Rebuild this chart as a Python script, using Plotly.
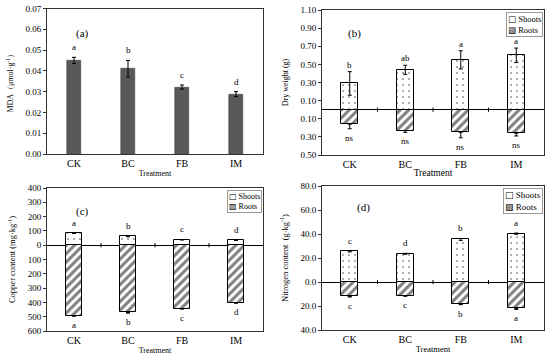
import plotly.graph_objects as go

cats = ["CK", "BC", "FB", "IM"]

mda = [0.045, 0.041, 0.0322, 0.0288]
mda_err = [0.0015, 0.004, 0.001, 0.0012]
mda_lbl = ["a", "b", "c", "d"]

dw_shoot = [0.29, 0.44, 0.55, 0.60]
dw_shoot_err = [0.13, 0.05, 0.10, 0.08]
dw_root = [0.16, 0.23, 0.25, 0.26]
dw_root_err = [0.05, 0.02, 0.06, 0.03]
dw_shoot_lbl = ["b", "ab", "a", "a"]
dw_root_lbl = ["ns", "ns", "ns", "ns"]

cu_shoot = [85, 62, 38, 35]
cu_shoot_err = [3, 3, 2, 2]
cu_root = [492, 470, 443, 402]
cu_root_err = [5, 5, 4, 4]
cu_shoot_lbl = ["a", "b", "c", "d"]
cu_root_lbl = ["a", "b", "c", "d"]

n_shoot = [25.5, 23.5, 35.5, 40.3]
n_shoot_err = [0.4, 0.4, 0.8, 0.5]
n_root = [12.0, 11.5, 18.5, 22.0]
n_root_err = [0.5, 0.4, 0.4, 0.8]
n_shoot_lbl = ["c", "d", "b", "a"]
n_root_lbl = ["c", "c", "b", "a"]

mda_ticks = [0, 0.01, 0.02, 0.03, 0.04, 0.05, 0.06, 0.07]
dw_ticks = [1.1, 0.9, 0.7, 0.5, 0.3, 0.1, -0.1, -0.3, -0.5]
cu_ticks = [400, 300, 200, 100, 0, -100, -200, -300, -400, -500, -600]
n_ticks = [80, 60, 40, 20, 0, -20, -40]

series_names = ["Shoots", "Roots"]

FONT = "Liberation Serif"
xs = list(range(len(cats)))
bounds = [i + 0.5 for i in xs[:-1]]

fig = go.Figure()

dot_pat = dict(shape=".", fgcolor="#333", bgcolor="white", size=6, solidity=0.1)
hatch_pat = dict(shape="/", fgcolor="black", bgcolor="white", size=6, solidity=0.5)
BW = 0.31


def err(arr):
    return dict(type="data", array=arr, color="black", thickness=1, width=2)


def labels(xa, ya, yvals, txt, above, gap=3):
    for x, y, t in zip(xs, yvals, txt):
        fig.add_annotation(x=x, y=y, text=t, xref=xa, yref=ya, showarrow=False,
                           yanchor="bottom" if above else "top", yshift=gap if above else -2,
                           font=dict(family=FONT, size=9, color="black"))


# (a)
fig.add_trace(go.Bar(x=xs, y=mda, width=0.26, marker=dict(color="#595959", line=dict(color="#333", width=0.5)),
                     error_y=err(mda_err), showlegend=False, xaxis="x", yaxis="y"))
labels("x", "y", [v + e for v, e in zip(mda, mda_err)], mda_lbl, True)


def two_panel(xa, ya, shoot, shoot_err, root, root_err, slbl, rlbl, gap=3):
    fig.add_trace(go.Bar(x=xs, y=shoot, width=BW, name=series_names[0],
                         marker=dict(color="white", pattern=dot_pat, line=dict(color="black", width=1)),
                         error_y=err(shoot_err), showlegend=False, xaxis=xa, yaxis=ya))
    fig.add_trace(go.Bar(x=xs, y=[-v for v in root], width=BW, name=series_names[1],
                         marker=dict(color="white", pattern=hatch_pat, line=dict(color="black", width=1)),
                         error_y=dict(type="data", symmetric=False, array=[0] * len(root), arrayminus=root_err,
                                      color="black", thickness=1, width=2),
                         showlegend=False, xaxis=xa, yaxis=ya))
    labels(xa, ya, [v + e for v, e in zip(shoot, shoot_err)], slbl, True, gap)
    labels(xa, ya, [-(v + e) for v, e in zip(root, root_err)], rlbl, False)
    fig.add_trace(go.Scatter(x=bounds, y=[0] * len(bounds), mode="markers",
                             marker=dict(symbol="line-ns", size=3, line=dict(color="black", width=1)),
                             showlegend=False, hoverinfo="skip", xaxis=xa, yaxis=ya))


two_panel("x2", "y2", dw_shoot, dw_shoot_err, dw_root, dw_root_err, dw_shoot_lbl, dw_root_lbl, gap=0)
two_panel("x3", "y3", cu_shoot, cu_shoot_err, cu_root, cu_root_err, cu_shoot_lbl, cu_root_lbl)
two_panel("x4", "y4", n_shoot, n_shoot_err, n_root, n_root_err, n_shoot_lbl, n_root_lbl)

W, H = 550, 358


def dom(x0, x1, y0, y1):
    return [x0 / W, x1 / W], [1 - y1 / H, 1 - y0 / H]


ax_common = dict(showline=True, linecolor="#333", linewidth=1, mirror=True, showgrid=False,
                 tickfont=dict(family=FONT, size=9, color="black"), ticks="outside", ticklen=3,
                 tickcolor="#333", automargin=False)

panels = [
    ("", dom(47, 263, 8.5, 154), [-0.5, 3.5], [0, 0.07], mda_ticks, [f"{t:.2f}" for t in mda_ticks],
     "MDA（μmol·g<sup>-1</sup>）", 8, False, 8, 2),
    ("2", dom(322, 544, 10, 155), [-0.5, 3.5], [-0.5, 1.1], dw_ticks, [f"{abs(t):.2f}" for t in dw_ticks],
     "Dry weight (g)", 8, True, 9.5, 0),
    ("3", dom(47, 263, 188, 331), [-0.5, 3.5], [-600, 400], cu_ticks, [f"{abs(t):d}" for t in cu_ticks],
     "Copper content (mg·kg<sup>-1</sup>)", 8.5, True, 8, 2),
    ("4", dom(322, 544, 186, 330), [-0.5, 3.5], [-40, 80], n_ticks, [f"{abs(t):.1f}" for t in n_ticks],
     "Nitrogen content  (g·kg<sup>-1</sup>)", 8.5, True, 8.5, 2),
]

for suf, (xd, yd), xr, yr, tv, tt, ytitle, ysz, zl, tsz, tso in panels:
    fig.layout["xaxis" + suf] = dict(ax_common, domain=xd, range=xr, tickvals=xs, ticktext=cats,
                                     ticks="", tickfont=dict(family=FONT, size=10, color="black"),
                                     anchor="y" + suf,
                                     title=dict(text="Treatment", font=dict(family=FONT, size=tsz, color="black"),
                                                standoff=tso))
    fig.layout["yaxis" + suf] = dict(ax_common, domain=yd, range=yr, tickvals=tv, ticktext=tt,
                                     anchor="x" + suf, zeroline=zl, zerolinecolor="black", zerolinewidth=1,
                                     ticklabeloverflow="allow",
                                     title=dict(text=ytitle, font=dict(family=FONT, size=ysz, color="black"),
                                                standoff=10))

panel_letters = [("(a)", "x", "y", 0.125, 0.89), ("(b)", "x2", "y2", 0.11, 0.90),
                 ("(c)", "x3", "y3", 0.125, 0.895), ("(d)", "x4", "y4", 0.15, 0.91)]
for txt, xa, ya, px, py in panel_letters:
    fig.add_annotation(text=txt, xref=xa + " domain", yref=ya + " domain", x=px, y=py,
                       showarrow=False, font=dict(family=FONT, size=11, color="black"))

# legends (compact boxes, as in the reference)
legend_text = f"<span style='font-family:DejaVu Sans'>□</span> {series_names[0]}<br>" \
              f"<span style='font-family:DejaVu Sans'>▨</span> {series_names[1]}"
for xa, ya, fs in [("x2", "y2", 8.5), ("x3", "y3", 8), ("x4", "y4", 9)]:
    fig.add_annotation(text=legend_text, xref=xa + " domain", yref=ya + " domain", x=1, y=1,
                       xanchor="right", yanchor="top", xshift=-1, yshift=-2, align="left",
                       showarrow=False, bgcolor="white", bordercolor="#999", borderwidth=1, borderpad=1,
                       font=dict(family=FONT, size=fs, color="black"))

fig.update_layout(
    width=W, height=H, margin=dict(l=0, r=0, t=0, b=0),
    paper_bgcolor="white", plot_bgcolor="white", barmode="relative", bargap=0,
    showlegend=False, hovermode=False,
)

# remove the browser's default 8px body margin so the figure sits at the page origin
fig.write_html("out.html", config={"displayModeBar": False},
               post_script="document.body.style.margin='0';")
